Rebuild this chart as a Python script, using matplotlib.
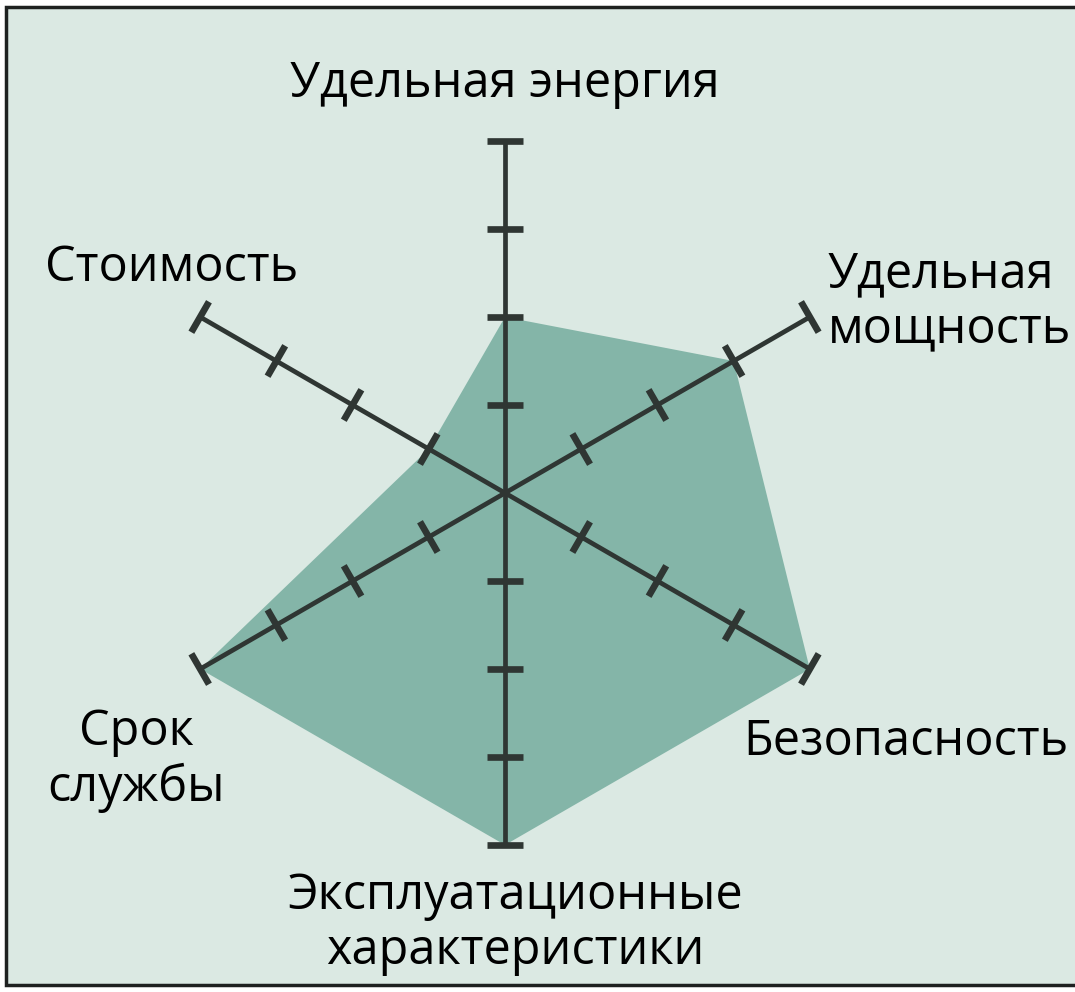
import matplotlib
matplotlib.use("Agg")
import matplotlib.pyplot as plt
import numpy as np
from matplotlib.patches import Rectangle

# ---------------------------------------------------------------------------
# Data
# ---------------------------------------------------------------------------
categories = [
    "Удельная энергия",
    "Удельная\nмощность",
    "Безопасность",
    "Эксплуатационные\nхарактеристики",
    "Срок\nслужбы",
    "Стоимость",
]
angles_deg = [90, 30, -30, -90, -150, 150]
values = [2, 3, 4, 4, 4, 1]
levels = [1, 2, 3, 4]

BG = "#dbe9e3"
FILL = "#84b5a8"
LINE = "#2f3633"

plt.rcParams["font.family"] = ["Open Sans", "DejaVu Sans"]

W, H, DPI = 1075, 992, 100
CX, CY = 505, 493      # centre of the web, pixels
UNIT = 88.0            # pixels per level

fig = plt.figure(figsize=(W / DPI, H / DPI), dpi=DPI)
fig.patch.set_facecolor("white")
ax = fig.add_axes([0, 0, 1, 1])
ax.set_xlim(-CX / UNIT, (W - CX) / UNIT)
ax.set_ylim(-(H - CY) / UNIT, CY / UNIT)
ax.axis("off")

# background panel with dark frame
fig.patches.append(Rectangle((6 / W, 1 - 985 / H), 1.0, (985 - 7) / H,
                             transform=fig.transFigure, facecolor=BG,
                             edgecolor="#1e2120", linewidth=2.5, zorder=-1))

ang = np.radians(angles_deg)
vals = np.array(values, dtype=float)
px = vals * np.cos(ang)
py = vals * np.sin(ang)
ax.fill(px, py, color=FILL, linewidth=0, zorder=1)

rmax = max(levels)
half = 0.2
for a in ang:
    ax.plot([0, rmax * np.cos(a)], [0, rmax * np.sin(a)], color=LINE,
            lw=3.4, solid_capstyle="butt", zorder=2)
    perp = np.array([-np.sin(a), np.cos(a)])
    for lv in levels:
        c = np.array([lv * np.cos(a), lv * np.sin(a)])
        p0 = c - half * perp
        p1 = c + half * perp
        ax.plot([p0[0], p1[0]], [p0[1], p1[1]], color=LINE, lw=4.8,
                solid_capstyle="butt", zorder=3)

# axis labels (pixel positions converted to data units)
def pos(x, y):
    return (x - CX) / UNIT, (CY - y) / UNIT

label_style = dict(fontsize=35, color="black", linespacing=1.14, zorder=4)
ax.text(*pos(505, 84), categories[0], ha="center", va="center", **label_style)
ax.text(*pos(828, 302), categories[1], ha="left", va="center", **label_style)
ax.text(*pos(1068, 742), categories[2], ha="right", va="center", **label_style)
ax.text(*pos(515, 924), categories[3], ha="center", va="center", **label_style)
ax.text(*pos(136, 760), categories[4], ha="center", va="center", **label_style)
ax.text(*pos(172, 268), categories[5], ha="center", va="center", **label_style)

fig.savefig("out.png", dpi=DPI, facecolor=fig.get_facecolor())
